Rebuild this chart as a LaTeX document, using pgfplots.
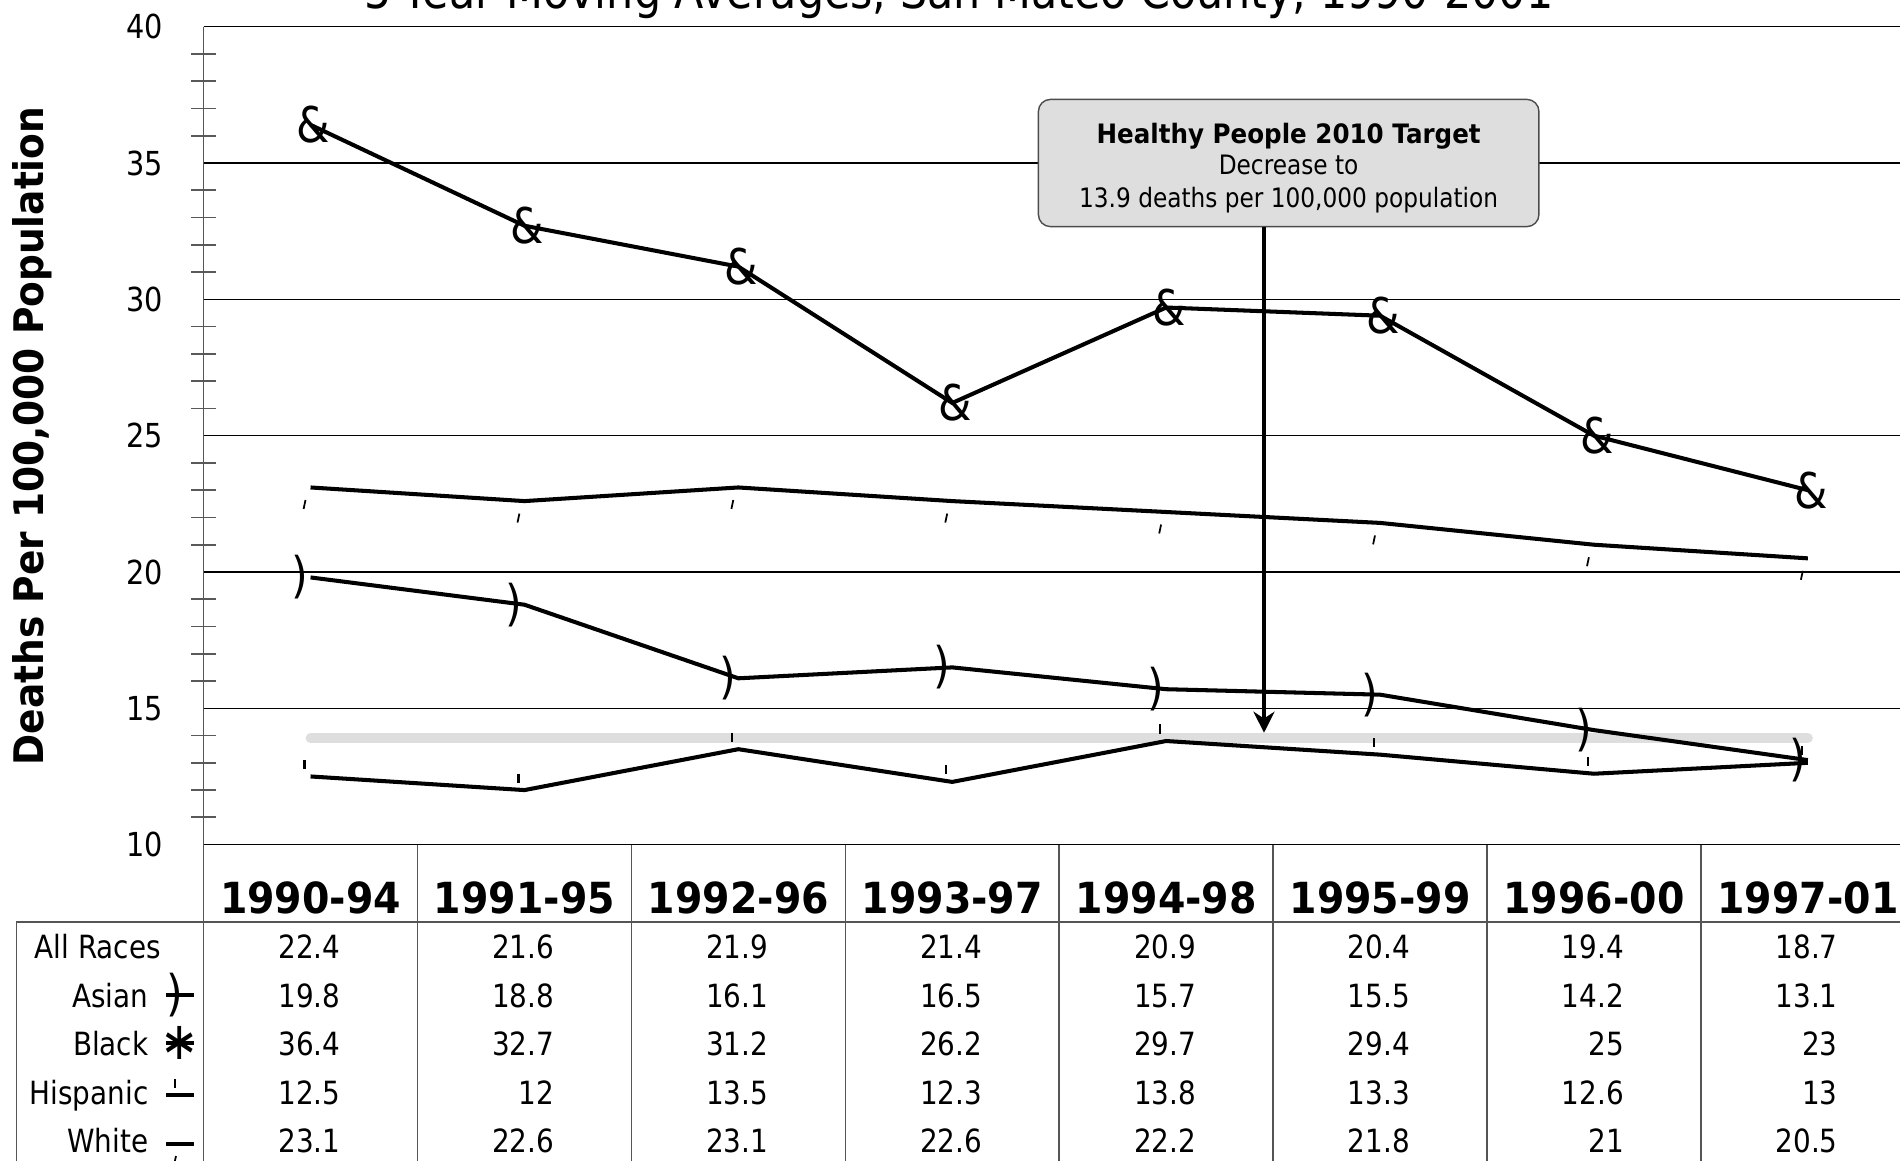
\documentclass[border=0pt]{standalone}
\usepackage{fontspec}
\setmainfont{DejaVu Sans}[UprightFeatures={FakeStretch=0.87},BoldFeatures={FakeStretch=0.92}]
\usepackage{pgfplots}
\pgfplotsset{compat=1.18}
\usepackage{pgfplotstable}
\usetikzlibrary{arrows.meta}
\definecolor{boxgray}{RGB}{222,222,222}
\definecolor{rulegray}{RGB}{85,85,85}

% 5-year moving averages, deaths per 100,000
\pgfplotstableread{
x all asian black hisp white
1 22.4 19.8 36.4 12.5 23.1
2 21.6 18.8 32.7 12 22.6
3 21.9 16.1 31.2 13.5 23.1
4 21.4 16.5 26.2 12.3 22.6
5 20.9 15.7 29.7 13.8 22.2
6 20.4 15.5 29.4 13.3 21.8
7 19.4 14.2 25 12.6 21
8 18.7 13.1 23 13 20.5
}\rates

\newcommand{\tabfont}{\fontsize{9.1}{10.9}\selectfont}

\begin{document}
\begin{tikzpicture}
  \begin{axis}[
      at={(2.036cm,-8.446cm)}, anchor=south west,
      scale only axis, width=17.112cm, height=8.179cm,
      xmin=0.5, xmax=8.5, ymin=10, ymax=40,
      xtick=\empty,
      ytick={10,15,20,25,30,35,40},
      minor y tick num=4,
      ymajorgrids,
      major grid style={black, line width=0.4pt},
      axis line style={draw=none},
      ytick pos=left,
      tick align=center,
      major tick length=0pt,
      minor tick length=0.25cm,
      minor tick style={black!65, line width=0.5pt},
      yticklabel style={anchor=east, inner sep=0pt, xshift=-0.4cm,
        font=\fontsize{9.4}{11}\selectfont},
      /pgf/number format/assume math mode=true,
      clip=false,
    ]
    % target line
    \addplot[draw=boxgray, line width=2.85pt, line cap=round] coordinates {(1,13.9) (8,13.9)};
    % Black
    \addplot[black, line width=1.15pt, mark=text, text mark={\&}, text mark as node=true,
      text mark style={font=\fontsize{14}{14}\selectfont, inner sep=0pt, xshift=0.03cm}]
      table[x=x, y=black] {\rates};
    % White
    \addplot[black, line width=1.15pt, mark=|, mark size=1.3pt,
      mark options={xshift=-0.06cm, yshift=-0.17cm, rotate=-12, line width=0.5pt}]
      table[x=x, y=white] {\rates};
    % Asian
    \addplot[black, line width=1.15pt, mark=text, text mark={)}, text mark as node=true,
      text mark style={font=\fontsize{14}{14}\selectfont, inner sep=0pt, anchor=east}]
      table[x=x, y=asian] {\rates};
    % Hispanic
    \addplot[black, line width=1.15pt, mark=|, mark size=1.3pt,
      mark options={xshift=-0.06cm, yshift=0.12cm, line width=0.6pt}]
      table[x=x, y=hisp] {\rates};
  \end{axis}

  % title (cut at the top as in the source)
  \node[anchor=base, font=\fontsize{14}{14}\selectfont] at (9.59,-0.085)
    {5-Year Moving Averages, San Mateo County, 1990-2001};
  % y label
  \node[rotate=90, font=\bfseries\fontsize{11.6}{11.6}\selectfont] at (0.327,-4.36)
    {Deaths Per 100,000 Population};

  % callout
  \draw[rounded corners=0.12cm, fill=boxgray, draw=black!70, line width=0.4pt]
    (10.384,-0.994) rectangle (15.389,-2.266);
  \node[anchor=base, font=\bfseries\fontsize{7.6}{9}\selectfont] at (12.886,-1.43) {Healthy People 2010 Target};
  \node[anchor=base, font=\fontsize{7.6}{9}\selectfont] at (12.886,-1.746) {Decrease to};
  \node[anchor=base, font=\fontsize{7.6}{9}\selectfont] at (12.886,-2.073) {13.9 deaths per 100,000 population};
  \draw[line width=1.35pt, -{Stealth[length=0.21cm, width=0.21cm]}] (12.64,-2.266) -- (12.64,-7.327);

  % data table
  \draw[rulegray, line width=0.45pt] (2.036,-0.267) -- (2.036,-11.7);
  \foreach \k in {1,...,8}
    \draw[rulegray, line width=0.45pt] ({2.036+\k*2.139},-8.446) -- ({2.036+\k*2.139},-11.7);
  \draw[rulegray, line width=0.45pt] (0.167,-11.7) -- (0.167,-9.217) -- (19.5,-9.217);

  \foreach \lab [count=\j] in {1990-94,1991-95,1992-96,1993-97,1994-98,1995-99,1996-00,1997-01}
    \node[anchor=base, inner sep=0pt, font=\bfseries\fontsize{12.2}{12.2}\selectfont]
      at ({2.036+(\j-0.5)*2.139},-9.13) {\lab};

  \foreach \c/\yb in {all/9.586, asian/10.071, black/10.556, hisp/11.041, white/11.526} {
    \foreach \r in {0,...,7} {
      \pgfplotstablegetelem{\r}{\c}\of\rates
      \node[anchor=base east, inner sep=0pt, font=\tabfont]
        at ({2.036+(\r+0.5)*2.139+0.305},-\yb) {\pgfplotsretval};
    }
  }

  \node[anchor=base west, inner sep=0pt, font=\tabfont] at (0.34,-9.586) {All Races};
  \node[anchor=base east, inner sep=0pt, font=\tabfont] at (1.49,-10.071) {Asian};
  \node[anchor=base east, inner sep=0pt, font=\tabfont] at (1.49,-10.556) {Black};
  \node[anchor=base east, inner sep=0pt, font=\tabfont] at (1.49,-11.041) {Hispanic};
  \node[anchor=base east, inner sep=0pt, font=\tabfont] at (1.49,-11.526) {White};

  % legend keys
  \draw[line width=1.15pt] (1.66,-9.95) -- (1.94,-9.95);
  \node[inner sep=0pt, anchor=east, font=\fontsize{14}{14}\selectfont] at (1.84,-9.95) {)};
  \draw[line width=1.15pt] (1.66,-10.433) -- (1.94,-10.433);
  \node[inner sep=0pt, font=\fontsize{15}{15}\selectfont] at (1.80,-10.433) {∗};
  \draw[line width=1.15pt] (1.66,-10.95) -- (1.94,-10.95);
  \draw[line width=0.6pt] (1.75,-10.88) -- (1.75,-10.79);
  \draw[line width=1.15pt] (1.66,-11.44) -- (1.94,-11.44);
  \draw[line width=0.5pt] (1.76,-11.56) -- (1.74,-11.65);

  \pgfresetboundingbox
  \useasboundingbox (0,0) rectangle (19,-11.6);
\end{tikzpicture}
\end{document}
